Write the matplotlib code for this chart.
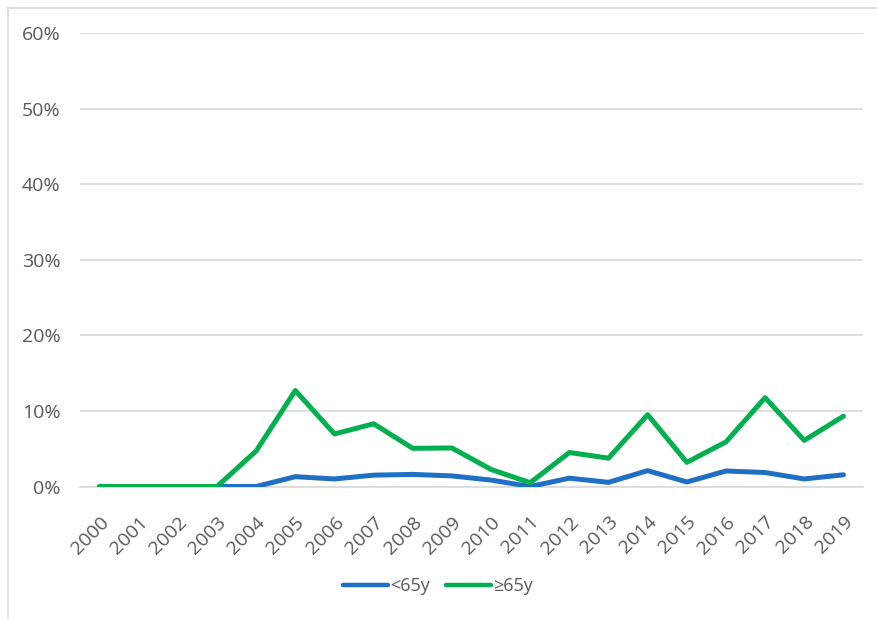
import matplotlib
matplotlib.use("Agg")
import matplotlib.pyplot as plt
from matplotlib.lines import Line2D
from matplotlib.ticker import FuncFormatter, MultipleLocator

plt.rcParams['font.family'] = ['Open Sans', 'DejaVu Sans']

years = [str(y) for y in range(2000, 2020)]
under_65 = [0.0, 0.0, 0.0, 0.0, 0.0, 1.3, 1.0, 1.5, 1.6, 1.4,
            0.85, 0.0, 1.1, 0.55, 2.1, 0.6, 2.05, 1.85, 1.0, 1.55]
over_65 = [0.0, 0.0, 0.0, 0.0, 4.7, 12.7, 6.95, 8.3, 5.05, 5.1,
           2.25, 0.5, 4.5, 3.75, 9.5, 3.2, 5.9, 11.75, 6.1, 9.3]
series_labels = ["<65y", "\u226565y"]

W, H = 877, 619
fig = plt.figure(figsize=(W / 100, H / 100), dpi=100)
ax = fig.add_axes([80 / W, 1 - 486.5 / H, (863 - 80) / W, (486.5 - 33) / H])

x = list(range(len(years)))
ax.plot(x, [v / 100 for v in under_65], color="#1F70C4", lw=3.6,
        solid_capstyle="round", solid_joinstyle="round", label=series_labels[0], zorder=3)
ax.plot(x, [v / 100 for v in over_65], color="#00B04F", lw=3.6,
        solid_capstyle="round", solid_joinstyle="round", label=series_labels[1], zorder=4)

ax.set_xlim(-0.5, len(years) - 0.5)
ax.set_ylim(0, 0.6)
ax.yaxis.set_major_locator(MultipleLocator(0.1))
ax.yaxis.set_major_formatter(FuncFormatter(lambda v, p: f"{v * 100:.0f}%"))
ax.grid(axis="y", color="#D9D9D9", lw=1.2)
ax.set_axisbelow(True)
for s in ["top", "right", "left"]:
    ax.spines[s].set_visible(False)
ax.spines["bottom"].set_color("#D9D9D9")
ax.spines["bottom"].set_linewidth(1.2)
ax.tick_params(axis="both", length=0, colors="#595959", labelsize=14)
ax.tick_params(axis="y", pad=14)
ax.set_xticks(x)
ax.set_xticklabels(years, rotation=45, ha="right", rotation_mode="anchor")
ax.tick_params(axis="x", pad=19)

leg = fig.legend(loc="center", bbox_to_anchor=(438 / W, 1 - 586 / H), ncol=2,
                 frameon=False, fontsize=13, handlelength=2.5, handletextpad=0.1,
                 columnspacing=0.9, labelcolor="#595959")
for h in leg.get_lines():
    h.set_linewidth(3.2)
    h.set_solid_capstyle("round")

# chart frame
fig.add_artist(Line2D([7.5 / W, 7.5 / W], [0, 1 - 7.5 / H], transform=fig.transFigure,
                      color="#D9D9D9", lw=1.2))
fig.add_artist(Line2D([7.5 / W, 1], [1 - 7.5 / H, 1 - 7.5 / H], transform=fig.transFigure,
                      color="#D9D9D9", lw=1.2))

fig.savefig("out.png", dpi=100, facecolor="white")
